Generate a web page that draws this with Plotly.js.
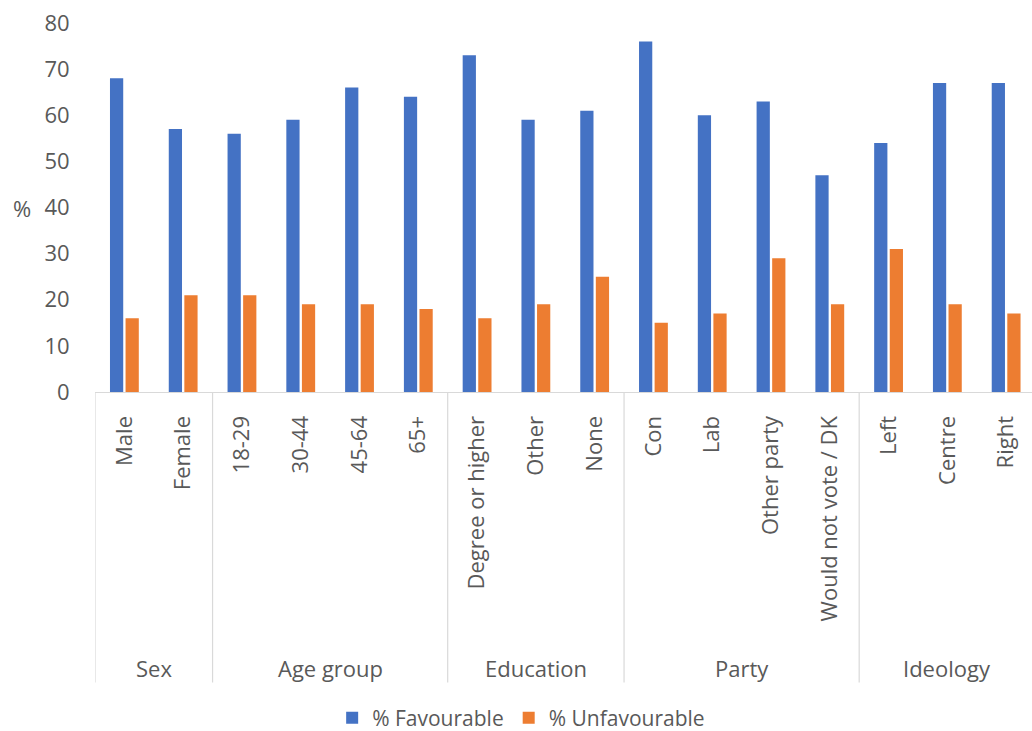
<!DOCTYPE html>
<html>
<head>
<meta charset="utf-8">
<script src="https://cdn.plot.ly/plotly-3.0.1.min.js"></script>
<style>html,body{margin:0;padding:0;background:#fff;overflow:hidden}</style>
</head>
<body>
<div id="chart" style="width:1032px;height:731px"></div>
<script>
// Data
var groups = ["Sex", "Age group", "Education", "Party", "Ideology"];
var groupSizes = [2, 4, 3, 4, 3];
var categories = ["Male", "Female", "18-29", "30-44", "45-64", "65+",
  "Degree or higher", "Other", "None",
  "Con", "Lab", "Other party", "Would not vote / DK",
  "Left", "Centre", "Right"];
var favourable = [68, 57, 56, 59, 66, 64, 73, 59, 61, 76, 60, 63, 47, 54, 67, 67];
var unfavourable = [16, 21, 21, 19, 19, 18, 16, 19, 25, 15, 17, 29, 19, 31, 19, 17];
var seriesNames = ["% Favourable", "% Unfavourable"];
var yTicks = [0, 10, 20, 30, 40, 50, 60, 70, 80];

var FONT = "Open Sans, Liberation Sans, sans-serif";
var TXT = "#595959";
var idx = categories.map(function(_, i){ return i; });

var traces = [
  {type: "bar", name: seriesNames[0], x: idx, y: favourable,
   marker: {color: "#4472C4", line: {width: 0}}},
  {type: "bar", name: seriesNames[1], x: idx, y: unfavourable,
   marker: {color: "#ED7D31", line: {width: 0}}}
];

// Group dividers and labels
var plotH = 392 - 22.5;
var divBottom = -(683 - 392) / plotH;
var labelY = -(668 - 392) / plotH;
var shapes = [];
var annotations = [];
var start = 0;
shapes.push({type: "line", xref: "x", yref: "paper", x0: -0.5, x1: -0.5, y0: 0, y1: divBottom,
  line: {color: "#d9d9d9", width: 1.2}});
for (var g = 0; g < groups.length; g++) {
  var end = start + groupSizes[g];
  shapes.push({type: "line", xref: "x", yref: "paper", x0: end - 0.5, x1: end - 0.5, y0: 0, y1: divBottom,
    line: {color: "#d9d9d9", width: 1.2}});
  annotations.push({xref: "x", yref: "paper", x: (start + end - 1) / 2, y: labelY,
    text: groups[g], showarrow: false, xanchor: "center", yanchor: "middle",
    font: {family: FONT, size: 22, color: TXT}});
  start = end;
}
annotations.push({xref: "paper", yref: "paper", x: -0.078, y: 0.5, text: "%", showarrow: false,
  xanchor: "center", yanchor: "middle", font: {family: FONT, size: 22, color: TXT}});

var layout = {
  width: 1032, height: 731,
  margin: {l: 94.5, r: 0, t: 22.5, b: 339},
  paper_bgcolor: "#ffffff", plot_bgcolor: "#ffffff",
  font: {family: FONT, color: TXT},
  bargap: 0.47, bargroupgap: 0.15,
  xaxis: {
    range: [-0.5, 15.44],
    tickmode: "array", tickvals: idx, ticktext: categories,
    tickangle: -90, tickfont: {family: FONT, size: 22, color: TXT},
    showgrid: false, zeroline: false,
    showline: true, linecolor: "#d9d9d9", linewidth: 1.2,
    ticks: "outside", ticklen: 14, tickcolor: "rgba(0,0,0,0)",
    fixedrange: true
  },
  yaxis: {
    range: [0, 80],
    tickmode: "array", tickvals: yTicks,
    tickfont: {family: FONT, size: 22, color: TXT},
    showgrid: false, zeroline: false, showline: false,
    ticks: "outside", ticklen: 20, tickcolor: "rgba(0,0,0,0)",
    fixedrange: true
  },
  showlegend: true,
  legend: {orientation: "h", xref: "container", yref: "container",
    x: 0.505, xanchor: "center", y: 1 - 718 / 731, yanchor: "middle",
    font: {family: FONT, size: 21, color: TXT}, itemwidth: 30, traceorder: "normal"},
  shapes: shapes,
  annotations: annotations
};

Plotly.newPlot("chart", traces, layout, {displayModeBar: false, staticPlot: true});
</script>
</body>
</html>
